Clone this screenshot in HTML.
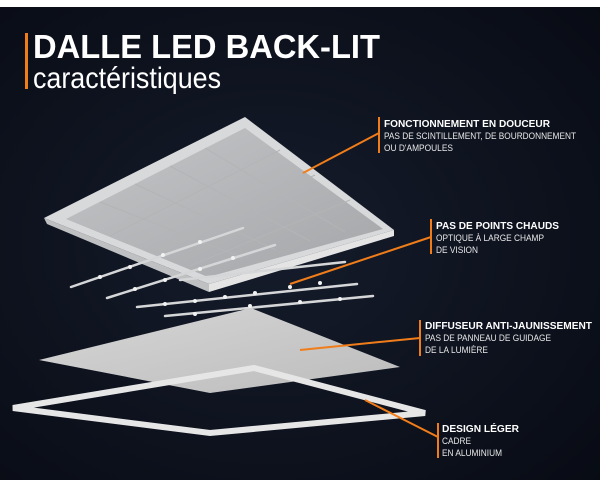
<!DOCTYPE html>
<html><head><meta charset="utf-8"><style>
html,body{margin:0;padding:0;background:#fff;}
svg{display:block;}
</style></head><body>
<svg width="600" height="489" viewBox="0 0 600 489" xmlns="http://www.w3.org/2000/svg">
<defs>
<radialGradient id="bg" cx="0.45" cy="0.5" r="0.75">
<stop offset="0" stop-color="#151c2b"/><stop offset="1" stop-color="#080b14"/>
</radialGradient>
<linearGradient id="pan" x1="0" y1="0" x2="1" y2="1">
<stop offset="0" stop-color="#c4c5c7"/><stop offset="1" stop-color="#a4a6a9"/>
</linearGradient>
<linearGradient id="dif" x1="0" y1="0" x2="1" y2="1">
<stop offset="0" stop-color="#d6d6d6"/><stop offset="1" stop-color="#bcbcbc"/>
</linearGradient>
</defs>
<rect x="0" y="0" width="600" height="489" fill="#fff"/>
<rect x="0" y="7" width="600" height="473" fill="url(#bg)"/>

<rect x="25" y="33" width="3" height="56" fill="#f07d1a"/>
<text x="33" y="58" font-family="Liberation Sans,sans-serif" font-weight="bold" font-size="33" fill="#fff" textLength="347" lengthAdjust="spacingAndGlyphs">DALLE LED BACK-LIT</text>
<text x="33" y="88" font-family="Liberation Sans,sans-serif" font-size="30" fill="#fff" textLength="188" lengthAdjust="spacingAndGlyphs">caractéristiques</text>

<polygon points="44,218 245,117 394,230 209,284" fill="#d8d9da"/>
<polygon points="44,218 209,284 209,292 47,224" fill="#bfc0c2"/>
<polygon points="209,284 394,230 394,236 209,292" fill="#e4e4e4"/>
<polygon points="66,219 245,128 383,229 208,277" fill="url(#pan)"/>
<g stroke="#b3b4b6" stroke-width="1" fill="none">
<line x1="100" y1="202" x2="243" y2="258"/>
<line x1="135" y1="184" x2="276" y2="250"/>
<line x1="170" y1="166" x2="310" y2="241"/>
<line x1="205" y1="148" x2="345" y2="232"/>
<line x1="110" y1="236" x2="280" y2="150"/>
<line x1="150" y1="252" x2="315" y2="175"/>
<line x1="190" y1="266" x2="350" y2="200"/>
</g>

<g stroke="#d5d6d8" stroke-width="2.5" stroke-linecap="round">
<line x1="71" y1="287" x2="243" y2="228"/>
<line x1="107" y1="298" x2="275" y2="245"/>
<line x1="137" y1="307" x2="357" y2="284"/>
<line x1="165" y1="316" x2="373" y2="296"/>
<line x1="180" y1="280" x2="345" y2="262"/>
</g>
<g fill="#f2f2f2">
<circle cx="100" cy="277" r="2"/><circle cx="130" cy="267" r="2"/><circle cx="163" cy="255" r="2"/><circle cx="200" cy="242" r="2"/>
<circle cx="135" cy="289" r="2"/><circle cx="165" cy="280" r="2"/><circle cx="200" cy="269" r="2"/><circle cx="233" cy="258" r="2"/>
<circle cx="165" cy="304" r="2"/><circle cx="195" cy="301" r="2"/><circle cx="225" cy="297" r="2"/><circle cx="255" cy="293" r="2"/><circle cx="290" cy="287" r="2"/><circle cx="320" cy="283" r="2"/>
<circle cx="195" cy="314" r="2"/><circle cx="250" cy="306" r="2"/><circle cx="300" cy="302" r="2"/><circle cx="340" cy="299" r="2"/>
</g>

<polygon points="39,360 251,308 400,367 210,393" fill="url(#dif)"/>

<polygon points="13,408 254,368 425,413 210,433" fill="none" stroke="#e6e6e6" stroke-width="6" stroke-linejoin="miter"/>

<g stroke="#f07d1a" stroke-width="2" fill="none">
<line x1="303" y1="173" x2="379" y2="133"/>
<line x1="290" y1="284" x2="431" y2="237"/>
<line x1="300" y1="350" x2="420" y2="338"/>
<line x1="365" y1="400" x2="438" y2="437"/>
</g>
<g fill="#f07d1a">
<rect x="378" y="117" width="2" height="36"/>
<rect x="430" y="219" width="2" height="35"/>
<rect x="419" y="320" width="2" height="36"/>
<rect x="437" y="423" width="2" height="35"/>
</g>

<g font-family="Liberation Sans,sans-serif" fill="#fff">
<text x="384" y="127" font-size="10" font-weight="bold" textLength="166" lengthAdjust="spacingAndGlyphs">FONCTIONNEMENT EN DOUCEUR</text>
<text x="384" y="139" font-size="9.5" fill="#e8e8e8" textLength="192" lengthAdjust="spacingAndGlyphs">PAS DE SCINTILLEMENT, DE BOURDONNEMENT</text>
<text x="384" y="151" font-size="9.5" fill="#e8e8e8" textLength="69" lengthAdjust="spacingAndGlyphs">OU D'AMPOULES</text>

<text x="436" y="229" font-size="10" font-weight="bold" textLength="123" lengthAdjust="spacingAndGlyphs">PAS DE POINTS CHAUDS</text>
<text x="436" y="241" font-size="9.5" fill="#e8e8e8" textLength="108" lengthAdjust="spacingAndGlyphs">OPTIQUE À LARGE CHAMP</text>
<text x="436" y="253" font-size="9.5" fill="#e8e8e8" textLength="42" lengthAdjust="spacingAndGlyphs">DE VISION</text>

<text x="425" y="329" font-size="10" font-weight="bold" textLength="167" lengthAdjust="spacingAndGlyphs">DIFFUSEUR ANTI-JAUNISSEMENT</text>
<text x="425" y="341" font-size="9.5" fill="#e8e8e8" textLength="126" lengthAdjust="spacingAndGlyphs">PAS DE PANNEAU DE GUIDAGE</text>
<text x="425" y="353" font-size="9.5" fill="#e8e8e8" textLength="63" lengthAdjust="spacingAndGlyphs">DE LA LUMIÈRE</text>

<text x="442" y="432" font-size="10" font-weight="bold" textLength="77" lengthAdjust="spacingAndGlyphs">DESIGN LÉGER</text>
<text x="442" y="444" font-size="9.5" fill="#e8e8e8" textLength="29" lengthAdjust="spacingAndGlyphs">CADRE</text>
<text x="442" y="456" font-size="9.5" fill="#e8e8e8" textLength="60" lengthAdjust="spacingAndGlyphs">EN ALUMINIUM</text>
</g>
</svg>
</body></html>
